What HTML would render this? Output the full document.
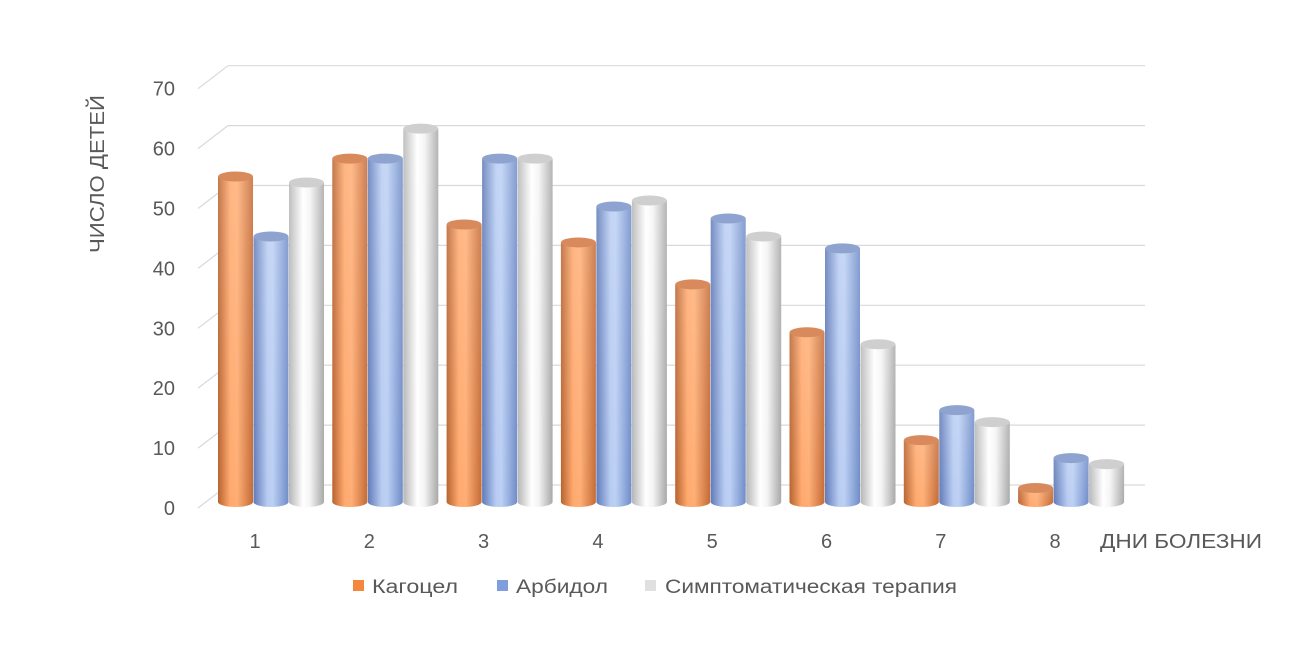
<!DOCTYPE html>
<html><head><meta charset="utf-8"><style>
body{margin:0;background:#fff}
svg{display:block;font-family:"Liberation Sans","DejaVu Sans",sans-serif}
</style></head><body>
<svg id="chart" width="1300" height="650" viewBox="0 0 1300 650">
<defs>
<linearGradient id="gO" x1="0" x2="1" y1="0" y2="0"><stop offset="0" stop-color="#b8622e"/><stop offset="0.35" stop-color="#ffa96e"/><stop offset="0.55" stop-color="#ffae75"/><stop offset="1" stop-color="#c46a35"/></linearGradient>
<linearGradient id="gB" x1="0" x2="1" y1="0" y2="0"><stop offset="0" stop-color="#5f7ab8"/><stop offset="0.4" stop-color="#b8ccf2"/><stop offset="0.55" stop-color="#bcd0f4"/><stop offset="1" stop-color="#6f8cc8"/></linearGradient>
<linearGradient id="gW" x1="0" x2="1" y1="0" y2="0"><stop offset="0" stop-color="#b5b5b5"/><stop offset="0.4" stop-color="#ffffff"/><stop offset="0.6" stop-color="#f4f4f4"/><stop offset="1" stop-color="#a8a8a8"/></linearGradient>
<linearGradient id="gV" x1="0" x2="0" y1="0" y2="1"><stop offset="0" stop-color="#fff" stop-opacity="0.15"/><stop offset="1" stop-color="#fff" stop-opacity="0"/></linearGradient>
</defs>
<g id="grid"></g>
<g id="yt"></g>
<g id="bars"></g>
<g id="xt"></g>
<text transform="translate(104,174) rotate(-90)" text-anchor="middle" font-size="20" fill="#595959" textLength="158" lengthAdjust="spacingAndGlyphs">ЧИСЛО ДЕТЕЙ</text>
<text x="1100" y="548" font-size="20" fill="#595959" textLength="162" lengthAdjust="spacingAndGlyphs">ДНИ БОЛЕЗНИ</text>
<g font-size="19" fill="#595959">
<g><rect x="353" y="580" width="11" height="11" fill="#f4863e"/><text x="372" y="593" textLength="86" lengthAdjust="spacingAndGlyphs">Кагоцел</text></g>
<g><rect x="497" y="580" width="11" height="11" fill="#7f9fdc"/><text x="516" y="593" textLength="92" lengthAdjust="spacingAndGlyphs">Арбидол</text></g>
<g><rect x="645" y="580" width="11" height="11" fill="#e0e0e0"/><text x="665" y="593" textLength="292" lengthAdjust="spacingAndGlyphs">Симптоматическая терапия</text></g>
</g>
</svg>
<script>
const categories=["1","2","3","4","5","6","7","8"];
const kagocel=[55,58,47,44,37,29,11,3];
const arbidol=[45,58,58,50,48,43,16,8];
const symptomatic=[54,63,58,51,45,27,14,7];
const yTicks=[0,10,20,30,40,50,60,70];
const NS="http://www.w3.org/2000/svg";
function mk(t,a,p){const e=document.createElementNS(NS,t);for(const k in a)e.setAttribute(k,a[k]);p.appendChild(e);return e;}
const y0=508,ppu=5.99;
function yF(v){return y0-v*ppu;}
function xG(i){return 218+i*114.3;}
const grid=document.getElementById('grid'),yt=document.getElementById('yt'),bars=document.getElementById('bars'),xt=document.getElementById('xt');
yTicks.forEach(v=>{
  const yb=yF(v)-23;
  const l=mk('line',{x1:228,x2:1145,y1:yb,y2:yb,stroke:'#d9d9d9','stroke-width':1.2},grid);
  
  const d=mk('line',{x1:198,x2:228,y1:yF(v),y2:yb,stroke:'#d9d9d9','stroke-width':1.2},grid);
  
  const t=mk('text',{x:175,y:yF(v)+7,'text-anchor':'end','font-size':20,fill:'#595959'},yt);
  
  t.textContent=v;
});
const series=[[kagocel,'gO','#d98a5c','kagocel'],[arbidol,'gB','#8ea3cf','arbidol'],[symptomatic,'gW','#cfcfcf','symptomatic']];
categories.forEach((c,i)=>{
  series.forEach((s,j)=>{
    const x=xG(i)+j*35.5,w=35,top=yF(s[0][i])-2,bot=502,ry=5;
    const g=mk('g',{},bars);
    
    
    mk('path',{d:`M${x},${top} L${x},${bot} A${w/2},${ry} 0 0 0 ${x+w},${bot} L${x+w},${top} Z`,fill:'url(#'+s[1]+')'},g);
    mk('path',{d:`M${x},${top} L${x},${bot} A${w/2},${ry} 0 0 0 ${x+w},${bot} L${x+w},${top} Z`,fill:'url(#gV)'},g);
    mk('ellipse',{cx:x+w/2,cy:top,rx:w/2,ry:ry,fill:s[2]},g);
  });
  const t=mk('text',{x:xG(i)+37,y:548,'text-anchor':'middle','font-size':20,fill:'#595959'},xt);
  
  t.textContent=c;
});
</script>
</body></html>
